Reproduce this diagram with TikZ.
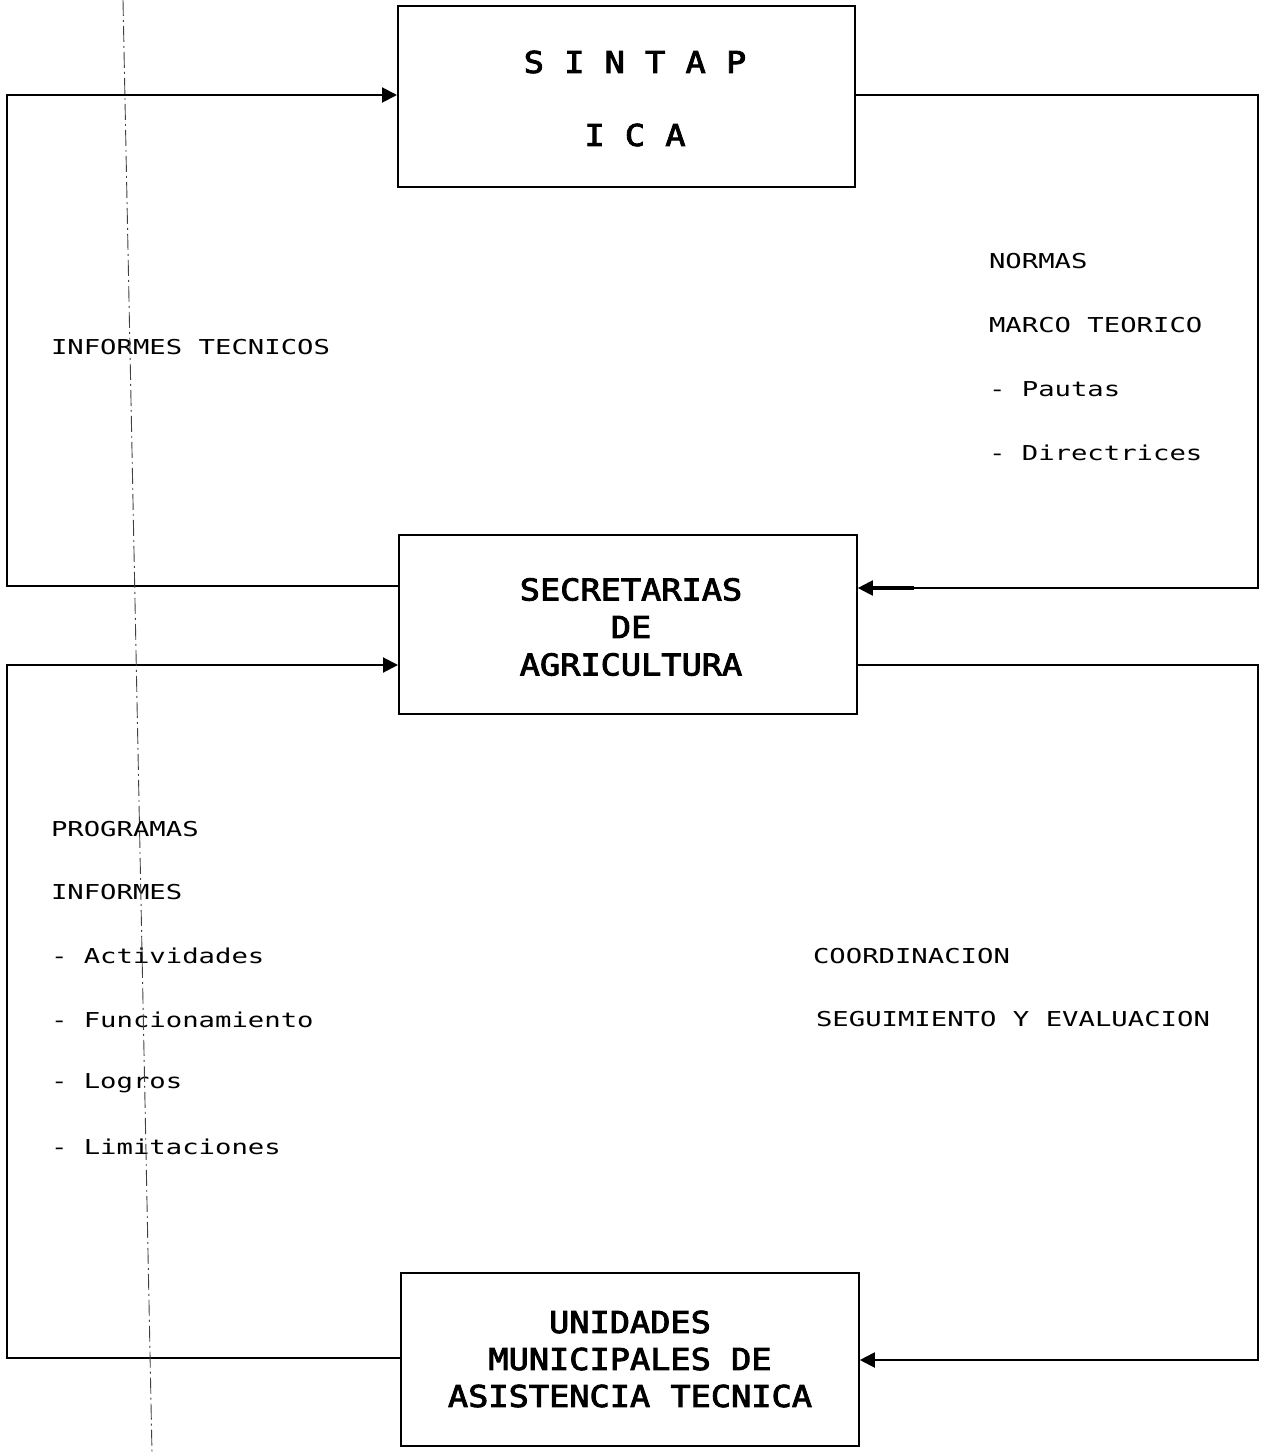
\documentclass[tikz,border=0pt]{standalone}
\usepackage{fontspec}
\usetikzlibrary{arrows.meta}
\newfontfamily\lblfont[FakeStretch=1.33]{DejaVu Sans Mono}
\newfontfamily\boxfont[FakeStretch=1.12,FakeBold=3]{DejaVu Sans Mono}
\begin{document}
\begin{tikzpicture}[x=1pt,y=-1pt,
  line width=2pt,
  entity/.style={draw,line width=1.8pt,inner sep=0pt,anchor=north west},
  boxtxt/.style={font=\boxfont\fontsize{30}{37}\selectfont,align=center},
  lbl/.style={font=\lblfont\fontsize{20.5}{22}\selectfont,anchor=west,inner sep=0pt},
  arr/.style={-{Triangle[length=15pt,width=15pt]}},
  fold/.style={line width=0.9pt,black!75,dash pattern=on 16pt off 4pt on 2pt off 4pt}
]
\useasboundingbox (0,0) rectangle (1262,1453);
% boxes
\node[entity,minimum width=457pt,minimum height=181pt] (ica) at (397,5) {};
\node[boxtxt] (icat) at (635,62) {S I N T A P};
\node[boxtxt] (icab) at (635,135) {I C A};
\node[entity,minimum width=458pt,minimum height=179pt] (sec) at (398,534) {};
\node[boxtxt,font=\boxfont\fontsize{30}{37.5}\selectfont] (sect) at (631,627) {SECRETARIAS\\DE\\AGRICULTURA};
\node[entity,minimum width=458pt,minimum height=173pt] (umt) at (400,1272) {};
\node[boxtxt,font=\boxfont\fontsize{30}{37}\selectfont] (umtt) at (630,1359) {UNIDADES\\MUNICIPALES DE\\ASISTENCIA TECNICA};
% corner coordinates
\coordinate (a1) at (7,95);
\coordinate (a2) at (7,586);
\coordinate (b1) at (1258,95);
\coordinate (b2) at (1258,588);
\coordinate (c1) at (7,665);
\coordinate (c2) at (7,1358);
\coordinate (d1) at (1258,665);
\coordinate (d2) at (1258,1360);
% upper loop
\draw[arr] (sec.west |- a2) -- (a2) -- (a1) -- (ica.west |- a1);
\draw[arr] (ica.east |- b1) -- (b1) -- (b2) -- (sec.east |- b2);
\draw[line width=4pt] (sec.east |- b2) ++(12,0) -- ++(44,0);
% lower loop
\draw[arr] (umt.west |- c2) -- (c2) -- (c1) -- (sec.west |- c1);
\draw[arr] (sec.east |- d1) -- (d1) -- (d2) -- (umt.east |- d2);
% labels
\node[lbl] (l1) at (50,347) {INFORMES TECNICOS};
\node[lbl] (r1) at (988,261) {NORMAS};
\node[lbl] (r2) at (988,325) {MARCO TEORICO};
\node[lbl] (r3) at (988,389) {- Pautas};
\node[lbl] (r4) at (988,453) {- Directrices};
\node[lbl] (p1) at (50,829) {PROGRAMAS};
\node[lbl] (p2) at (50,892) {INFORMES};
\node[lbl] (p3) at (50,956) {- Actividades};
\node[lbl] (p4) at (50,1020) {- Funcionamiento};
\node[lbl] (p5) at (50,1083) {- Logros};
\node[lbl] (p6) at (50,1147) {- Limitaciones};
\node[lbl] (q1) at (812,956) {COORDINACION};
\node[lbl] (q2) at (815,1019) {SEGUIMIENTO Y EVALUACION};
% fold line
\coordinate (f1) at (123,0);
\coordinate (f2) at (152,1453);
\draw[fold] (f1) -- (f2);
\end{tikzpicture}
\end{document}
